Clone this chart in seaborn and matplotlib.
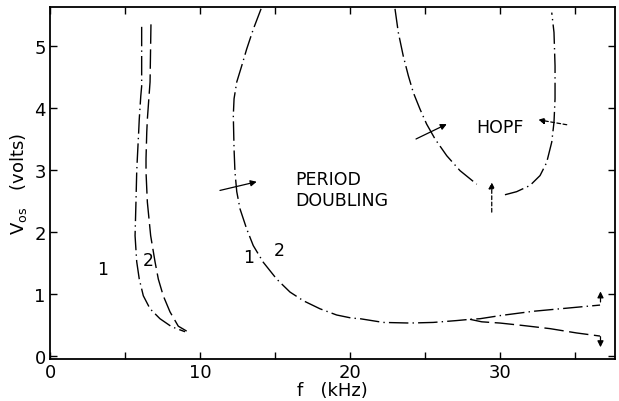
import matplotlib
matplotlib.use("Agg")
import matplotlib.pyplot as plt
import seaborn as sns

# --- data (f in kHz, V in volts) ---
left1_f = [6.11, 6.11, 6.11, 6.05, 5.95, 5.91, 5.82, 5.78, 5.73, 5.67, 5.78, 5.95, 6.22, 6.67, 7.33, 8.11, 9.00]
left1_v = [5.31, 4.82, 4.35, 4.19, 3.82, 3.61, 3.18, 2.97, 2.48, 1.94, 1.52, 1.24, 0.97, 0.76, 0.60, 0.47, 0.39]
left2_f = [6.73, 6.67, 6.60, 6.49, 6.45, 6.40, 6.40, 6.49, 6.71, 7.00, 7.22, 7.55, 8.00, 8.55, 9.11]
left2_v = [5.35, 4.42, 4.19, 3.82, 3.61, 3.18, 2.97, 2.48, 1.94, 1.52, 1.24, 0.97, 0.71, 0.48, 0.40]

pd_f = [14.07, 13.55, 13.11, 12.78, 12.45, 12.27, 12.22, 12.27, 12.33, 12.45, 12.67, 13.11, 13.55,
        14.22, 15.11, 16.00, 16.89, 18.00, 19.11, 20.11, 20.67, 22.22, 24.00, 25.55, 27.11, 28.00,
        28.67, 30.00, 32.22, 34.45, 36.67]
pd_v = [5.60, 5.27, 4.95, 4.68, 4.42, 4.15, 3.88, 3.34, 2.97, 2.65, 2.37, 2.05, 1.78,
        1.51, 1.24, 1.03, 0.89, 0.76, 0.66, 0.61, 0.60, 0.54, 0.53, 0.54, 0.57, 0.59,
        0.60, 0.65, 0.72, 0.77, 0.82]
low_f = [28.00, 28.78, 30.00, 31.55, 33.33, 35.11, 36.67]
low_v = [0.59, 0.55, 0.53, 0.49, 0.44, 0.37, 0.32]

hopf1_f = [23.00, 23.22, 23.55, 23.89, 24.22, 24.67, 25.11, 25.67, 26.45, 27.33, 28.45]
hopf1_v = [5.60, 5.22, 4.84, 4.52, 4.25, 3.98, 3.74, 3.50, 3.23, 2.99, 2.77]
hopf2_f = [30.33, 31.11, 32.00, 32.67, 33.11, 33.45, 33.60, 33.67, 33.67, 33.60, 33.45]
hopf2_v = [2.60, 2.65, 2.75, 2.91, 3.12, 3.45, 3.77, 4.15, 4.68, 5.22, 5.54]

xticks = [0, 5, 10, 15, 20, 25, 30, 35]
xticklabels = ["0", "", "10", "", "20", "", "30", ""]
yticks = [0, 1, 2, 3, 4, 5]

sns.set_style("ticks", {"xtick.direction": "in", "ytick.direction": "in"})
plt.rcParams["font.family"] = ["DejaVu Sans"]
plt.rcParams["text.color"] = "black"
plt.rcParams["axes.labelcolor"] = "black"
plt.rcParams["xtick.color"] = "black"
plt.rcParams["ytick.color"] = "black"

fig = plt.figure(figsize=(6.19, 4.02), dpi=100)
ax = fig.add_axes([0.0808, 0.1045, 0.9128, 0.8756])

lw = 1.0
dashlong = (0, (14, 4))
dashdot = (0, (14, 3, 1, 3))
common = dict(sort=False, estimator=None, color="black", lw=lw, ax=ax)
sns.lineplot(x=left1_f, y=left1_v, linestyle=dashdot, **common)
sns.lineplot(x=left2_f, y=left2_v, linestyle=dashlong, **common)
sns.lineplot(x=pd_f, y=pd_v, linestyle=dashdot, **common)
sns.lineplot(x=low_f, y=low_v, linestyle=dashlong, **common)
sns.lineplot(x=hopf1_f, y=hopf1_v, linestyle=dashdot, **common)
sns.lineplot(x=hopf2_f, y=hopf2_v, linestyle=dashdot, **common)

arr = dict(arrowstyle="-|>", color="black", lw=0.9, mutation_scale=9, shrinkA=0, shrinkB=0)
ax.annotate("", xy=(13.78, 2.81), xytext=(11.33, 2.67), arrowprops=arr)
ax.annotate("", xy=(26.45, 3.74), xytext=(24.4, 3.50), arrowprops=arr)
ax.annotate("", xy=(32.55, 3.81), xytext=(34.45, 3.73), arrowprops=dict(arr, linestyle=(0, (3, 2))))
ax.annotate("", xy=(29.45, 2.80), xytext=(29.45, 2.32), arrowprops=dict(arr, linestyle=(0, (3, 2))))
ax.annotate("", xy=(36.7, 1.04), xytext=(36.7, 0.87), arrowprops=arr)
ax.annotate("", xy=(36.7, 0.14), xytext=(36.7, 0.31), arrowprops=arr)

fs = 12.5
ax.text(16.33, 2.85, "PERIOD", fontsize=fs, va="center", ha="left")
ax.text(16.33, 2.52, "DOUBLING", fontsize=fs, va="center", ha="left")
ax.text(28.45, 3.69, "HOPF", fontsize=fs, va="center", ha="left")
ax.text(3.53, 1.40, "1", fontsize=fs, va="center", ha="center")
ax.text(6.55, 1.54, "2", fontsize=fs, va="center", ha="center")
ax.text(13.22, 1.59, "1", fontsize=fs, va="center", ha="center")
ax.text(15.29, 1.71, "2", fontsize=fs, va="center", ha="center")

ax.set_xlim(0, 37.67)
ax.set_ylim(-0.05, 5.63)
ax.set_xticks(xticks)
ax.set_xticklabels(xticklabels)
ax.set_yticks(yticks)
ax.tick_params(axis="both", which="both", direction="in", top=True, right=True,
               length=5, width=1, labelsize=13, pad=3)
for s in ax.spines.values():
    s.set_linewidth(1.3)
    s.set_color("black")
ax.set_xlabel("f   (kHz)", fontsize=13, labelpad=0)
ax.set_ylabel(r"$\mathrm{V_{os}}$   (volts)", fontsize=13, labelpad=4)

fig.savefig("out.png", dpi=100)
